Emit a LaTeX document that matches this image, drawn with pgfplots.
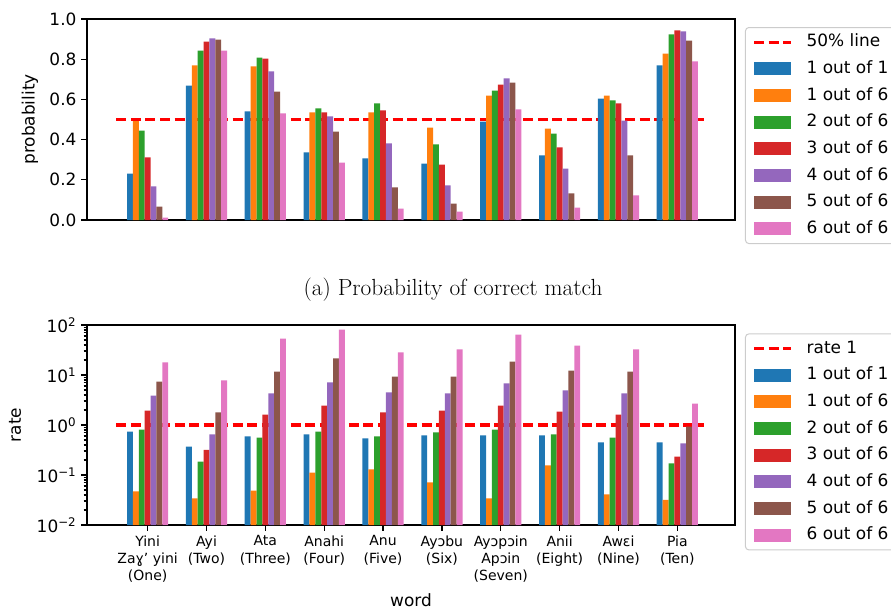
\documentclass[border=0pt]{standalone}
\usepackage{pgfplots}
\usepackage{pgfplotstable}
\pgfplotsset{compat=1.18}
\usepackage{fontspec}
\newfontfamily\dejavu{DejaVu Sans}
\definecolor{c0}{HTML}{1F77B4}
\definecolor{c1}{HTML}{FF7F0E}
\definecolor{c2}{HTML}{2CA02C}
\definecolor{c3}{HTML}{D62728}
\definecolor{c4}{HTML}{9467BD}
\definecolor{c5}{HTML}{8C564B}
\definecolor{c6}{HTML}{E377C2}

\pgfplotstableread{
x s0 s1 s2 s3 s4 s5 s6
0 0.231 0.492 0.445 0.311 0.167 0.067 0.012
1 0.669 0.769 0.843 0.888 0.903 0.898 0.843
2 0.540 0.764 0.808 0.803 0.739 0.639 0.530
3 0.336 0.535 0.555 0.535 0.515 0.440 0.286
4 0.306 0.535 0.580 0.545 0.381 0.162 0.057
5 0.281 0.460 0.376 0.276 0.172 0.082 0.042
6 0.490 0.619 0.644 0.674 0.704 0.684 0.550
7 0.321 0.455 0.430 0.361 0.256 0.132 0.062
8 0.604 0.619 0.595 0.580 0.495 0.321 0.122
9 0.769 0.828 0.923 0.943 0.938 0.893 0.789
}\probtab

\pgfplotstableread{
x s0 s1 s2 s3 s4 s5 s6
0 0.74 0.047 0.81 1.95 3.89 7.4 17.8
1 0.37 0.034 0.186 0.32 0.65 1.78 7.8
2 0.59 0.049 0.56 1.62 4.27 11.7 53.7
3 0.65 0.112 0.74 2.45 7.1 21.4 81
4 0.54 0.129 0.59 1.78 4.47 9.3 28.2
5 0.62 0.071 0.71 1.95 4.27 9.3 32.4
6 0.62 0.034 0.81 2.45 6.8 18.6 64
7 0.62 0.155 0.65 1.86 4.9 12.3 38.9
8 0.45 0.041 0.56 1.62 4.27 11.7 32.4
9 0.45 0.032 0.17 0.234 0.43 0.93 2.69
}\ratetab

\pgfplotsset{
  common/.style={
    scale only axis, width=486pt,
    xmin=-1.03, xmax=9.98,
    tick align=outside, tick pos=left,
    major tick length=4.4pt, minor tick length=2.5pt,
    every tick/.style={black, line width=1pt},
    axis line style={line width=1pt},
    tick label style={font=\dejavu\fontsize{12.7}{15}\selectfont},
    label style={font=\dejavu\fontsize{12.7}{15}\selectfont},
    legend cell align=left,
    legend style={
      anchor=north west, draw=black!20, line width=0.75pt, rounded corners=2.5pt,
      font=\dejavu\fontsize{12.7}{15}\selectfont,
      inner xsep=5.25pt, inner ysep=5pt, row sep=8pt,
      nodes={inner sep=0pt, text height=9.5pt, text depth=2.5pt},
      /tikz/every odd column/.append style={column sep=10.5pt},
    },
  },
  bars/.style n args={2}{ybar, bar width=0.1, bar shift=#1, fill=#2, draw=none,
    legend image code/.code={\fill[fill=#2, sharp corners] (0pt,-4.9pt) rectangle (27.75pt,4.9pt);}},
  refline/.style={red, line width=2.4pt, dash pattern=on 7.5pt off 3.4pt,
    legend image code/.code={\draw[red, sharp corners, line width=2.4pt, dash pattern=on 7.5pt off 3.4pt] (0pt,0pt) -- (27.75pt,0pt);}},
}

\begin{document}
\begin{tikzpicture}
\begin{axis}[common,
  at={(65.25pt,-165pt)}, anchor=south west,
  height=150.75pt,
  ymin=0, ymax=1,
  xtick=\empty,
  ytick={0,0.2,0.4,0.6,0.8,1.0},
  yticklabels={0.0,0.2,0.4,0.6,0.8,1.0},
  ylabel={probability},
  ylabel style={at={(axis description cs:-0.088,0.5)}, anchor=center},
  legend style={at={(1.0154,0.96)}},
]
\addplot[refline] coordinates {(-0.53,0.5) (9.46,0.5)};
\addlegendentry{50\% line}
\addplot[bars={-0.3}{c0}] table[x=x,y=s0] {\probtab};
\addlegendentry{1 out of 1}
\addplot[bars={-0.2}{c1}] table[x=x,y=s1] {\probtab};
\addlegendentry{1 out of 6}
\addplot[bars={-0.1}{c2}] table[x=x,y=s2] {\probtab};
\addlegendentry{2 out of 6}
\addplot[bars={0}{c3}] table[x=x,y=s3] {\probtab};
\addlegendentry{3 out of 6}
\addplot[bars={0.1}{c4}] table[x=x,y=s4] {\probtab};
\addlegendentry{4 out of 6}
\addplot[bars={0.2}{c5}] table[x=x,y=s5] {\probtab};
\addlegendentry{5 out of 6}
\addplot[bars={0.3}{c6}] table[x=x,y=s6] {\probtab};
\addlegendentry{6 out of 6}
\end{axis}

\node[font=\fontsize{17.5}{21}\selectfont] at (339.75pt,-217.5pt) {(a) Probability of correct match};

\begin{axis}[common,
  at={(65.25pt,-393.75pt)}, anchor=south west,
  height=150pt,
  ymode=log, log origin y=infty,
  ymin=0.01, ymax=100,
  xtick={0,1,2,3,4,5,6,7,8,9},
  xticklabels={{Yini\\Zaɣ’ yini\\(One)},{Ayi\\(Two)},{Ata\\(Three)},{Anahi\\(Four)},{Anu\\(Five)},{Ayɔbu\\(Six)},{Ayɔpɔin\\Apɔin\\(Seven)},{Anii\\(Eight)},{Awɛi\\(Nine)},{Pia\\(Ten)}},
  xticklabel style={align=center, font=\dejavu\fontsize{10.5}{13}\selectfont},
  ytick={0.01,0.1,1,10,100},
  yticklabels={10\textsuperscript{−2},10\textsuperscript{−1},10\textsuperscript{0},10\textsuperscript{1},10\textsuperscript{2}},
  minor ytick={0.02,0.03,0.04,0.05,0.06,0.07,0.08,0.09,0.2,0.3,0.4,0.5,0.6,0.7,0.8,0.9,2,3,4,5,6,7,8,9,20,30,40,50,60,70,80,90},
  ylabel={rate},
  ylabel style={at={(axis description cs:-0.111,0.5)}, anchor=center},
  xlabel={word},
  xlabel style={at={(axis description cs:0.5,-0.374)}, anchor=center},
  legend style={at={(1.0154,0.958)}},
]
\addplot[refline] coordinates {(-0.53,1) (9.46,1)};
\addlegendentry{rate 1}
\addplot[bars={-0.3}{c0}] table[x=x,y=s0] {\ratetab};
\addlegendentry{1 out of 1}
\addplot[bars={-0.2}{c1}] table[x=x,y=s1] {\ratetab};
\addlegendentry{1 out of 6}
\addplot[bars={-0.1}{c2}] table[x=x,y=s2] {\ratetab};
\addlegendentry{2 out of 6}
\addplot[bars={0}{c3}] table[x=x,y=s3] {\ratetab};
\addlegendentry{3 out of 6}
\addplot[bars={0.1}{c4}] table[x=x,y=s4] {\ratetab};
\addlegendentry{4 out of 6}
\addplot[bars={0.2}{c5}] table[x=x,y=s5] {\ratetab};
\addlegendentry{5 out of 6}
\addplot[bars={0.3}{c6}] table[x=x,y=s6] {\ratetab};
\addlegendentry{6 out of 6}
\end{axis}

\pgfresetboundingbox
\path[use as bounding box] (0pt,0pt) rectangle (668.25pt,-457.5pt);
\end{tikzpicture}
\end{document}
